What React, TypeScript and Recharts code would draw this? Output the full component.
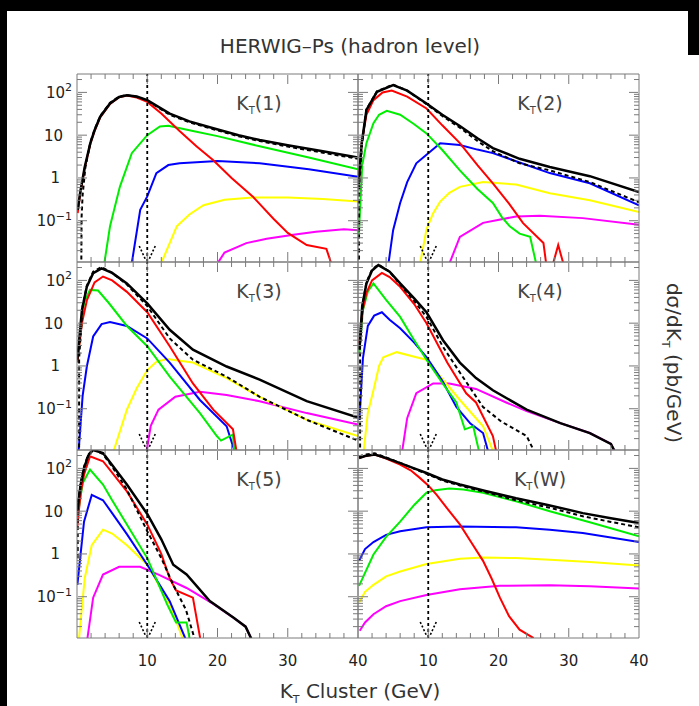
import React from 'react'
import { LineChart, Line, XAxis, YAxis, ReferenceLine } from 'recharts'

type Pt = [number, number]

// K_T(1)
const kt1Black: Pt[] = [[0.1, 0.18], [0.45, 0.45], [1.1, 1.8], [1.9, 6.5], [2.5, 13], [3.3, 27], [4.7, 55], [6, 78], [7.1, 86], [8.5, 80], [10, 66], [13.2, 32], [16, 21], [19.4, 14.5], [23, 10], [26, 7.7], [30, 5.8], [35, 4.2], [40, 3.0]]
const kt1Dashed: Pt[] = [[0.6, 0.004], [0.65, 0.12], [0.8, 0.4], [1.2, 1.8], [1.9, 6.8], [2.5, 13.5], [3.3, 28], [4.7, 57], [6, 80], [7.1, 86], [8.5, 79], [10, 64], [13.2, 30], [16, 20], [19.4, 13.8], [23, 9.4], [26, 7.3], [30, 5.4], [35, 3.9], [40, 2.8]]
const kt1Red: Pt[] = [[0.1, 0.15], [0.45, 0.42], [1.1, 1.7], [1.9, 6.3], [2.5, 12.5], [3.3, 26], [4.7, 54], [6, 77], [7.1, 84], [8.5, 76], [10, 60], [12, 32], [14.6, 12.5], [17, 5.5], [19.4, 2.6], [22, 1.0], [25, 0.37], [28, 0.11], [30, 0.052], [32.7, 0.027], [35.5, 0.022], [37, 0.004]]
const kt1Green: Pt[] = [[3.6, 0.005], [4.7, 0.074], [6.1, 0.62], [7.8, 3.8], [10, 10], [11.8, 16], [13, 16.5], [16.5, 12.5], [20, 9.5], [26, 5.5], [33, 3.0], [40, 1.6]]
const kt1Blue: Pt[] = [[7.5, 0.005], [9, 0.18], [10, 0.37], [11.3, 1.3], [13, 2.0], [14.6, 2.2], [20, 2.5], [26, 2.2], [33, 1.6], [40, 1.06]]
const kt1Yellow: Pt[] = [[11.2, 0.005], [14.2, 0.074], [16, 0.14], [18, 0.23], [21, 0.31], [25, 0.35], [30, 0.35], [35, 0.32], [40, 0.28]]
const kt1Magenta: Pt[] = [[18.8, 0.005], [21, 0.018], [24.1, 0.03], [27, 0.038], [30.8, 0.047], [34, 0.055], [38, 0.063], [40, 0.06]]

// K_T(2)
const kt2Black: Pt[] = [[0.05, 0.62], [0.5, 6], [1.2, 39], [2.7, 103], [5, 149], [7, 110], [9.75, 55], [12, 30], [14.5, 16.4], [17, 8.5], [19.2, 5], [23, 2.8], [27.3, 1.8], [33, 1.1], [40, 0.47]]
const kt2Dashed: Pt[] = [[0.14, 0.004], [0.16, 0.5], [0.6, 7], [1.2, 40], [2.7, 106], [5, 152], [7, 110], [9.75, 53], [12, 28], [14.5, 15], [17, 7.3], [19.2, 4.2], [23, 2.2], [27.3, 1.5], [33, 0.8], [40, 0.27]]
const kt2Red: Pt[] = [[0.1, 0.7], [0.5, 6], [1.2, 30], [2.2, 66], [3.5, 100], [4.8, 110], [7, 80], [9.75, 42], [12, 17], [14.5, 6.5], [17, 2.0], [19.2, 0.75], [21.5, 0.25], [23.5, 0.088], [26.4, 0.03], [27.1, 0.004], [28.5, 0.027], [29.9, 0.004]]
const kt2Green: Pt[] = [[0.1, 0.042], [0.6, 2], [1.2, 6.5], [2.2, 19], [3, 30], [4.1, 37], [6, 30], [8, 18], [9.75, 11], [12, 4.5], [14.5, 1.5], [17, 0.55], [19.2, 0.26], [20.5, 0.12], [21.6, 0.074], [23, 0.05], [24.5, 0.042], [25.9, 0.004]]
const kt2Blue: Pt[] = [[4, 0.004], [5, 0.06], [6, 0.26], [7, 0.8], [8.3, 2.2], [9.75, 3.5], [11.7, 6.5], [14.5, 5.9], [17, 4.6], [19.2, 3.8], [23, 2.3], [27.3, 1.3], [33, 0.75], [40, 0.23]]
const kt2Yellow: Pt[] = [[8.5, 0.005], [9.75, 0.063], [10.7, 0.15], [11.7, 0.28], [13, 0.45], [14.5, 0.62], [17.8, 0.8], [22.5, 0.7], [27.3, 0.44], [33, 0.3], [40, 0.16]]
const kt2Magenta: Pt[] = [[12.3, 0.005], [14.5, 0.042], [17.8, 0.089], [22.5, 0.126], [25.9, 0.13], [32, 0.115], [40, 0.08]]

// K_T(3)
const kt3Black: Pt[] = [[0.05, 1.4], [0.7, 20], [1.4, 71], [2.3, 147], [3.5, 191], [5, 150], [7.1, 85], [10, 29], [13.2, 7], [16.5, 2.4], [21.3, 0.97], [26, 0.48], [32.7, 0.15], [40, 0.062]]
const kt3Dashed: Pt[] = [[0.3, 0.004], [0.3, 1.5], [0.8, 25], [1.4, 75], [2.3, 160], [3.5, 205], [5, 150], [7.1, 80], [10, 25], [13.2, 4.4], [16.5, 1.4], [21.3, 0.56], [26, 0.19], [32.7, 0.055], [40, 0.018]]
const kt3Red: Pt[] = [[0.05, 1.2], [0.7, 10], [1.4, 34], [2.5, 90], [3.7, 123], [5, 100], [7.1, 54], [10, 18], [13.2, 2.9], [16.5, 0.39], [19.4, 0.095], [22.2, 0.033], [23.1, 0.004]]
const kt3Green: Pt[] = [[0.05, 1.4], [1, 30], [1.85, 60], [3, 58], [4.5, 30], [7.1, 8.6], [10, 2.9], [13.2, 0.56], [17.5, 0.079], [19.9, 0.023], [20.5, 0.018], [22.2, 0.025], [22.6, 0.004]]
const kt3Blue: Pt[] = [[0.05, 0.004], [0.8, 0.2], [1.4, 0.97], [2.3, 4.9], [3.5, 9.5], [4.7, 10.6], [7.1, 8.6], [10, 4.4], [13.2, 1.2], [17.5, 0.16], [21.3, 0.039], [23.2, 0.004]]
const kt3Yellow: Pt[] = [[4.6, 0.005], [7.1, 0.095], [8.5, 0.3], [10, 0.8], [11.3, 1.25], [12.8, 1.45], [16.5, 1.2], [21.3, 0.52], [26, 0.19], [32.7, 0.055], [35.5, 0.039], [40, 0.023]]
const kt3Magenta: Pt[] = [[9.6, 0.005], [10.5, 0.04], [11.6, 0.095], [14, 0.19], [17.5, 0.25], [21.3, 0.21], [26, 0.15], [32.7, 0.079], [40, 0.043]]

// K_T(4)
const kt4Black: Pt[] = [[0.2, 2.4], [0.6, 25], [1.2, 85], [2, 170], [2.9, 228], [4.5, 160], [6, 85], [8, 38], [9.75, 18], [12.1, 4.0], [14.5, 1.2], [16.8, 0.52], [19.2, 0.27], [24, 0.095], [28.8, 0.046], [33, 0.027], [36, 0.015], [37.8, 0.004]]
const kt4Dashed: Pt[] = [[0.3, 0.004], [0.3, 3], [0.7, 30], [1.2, 90], [2, 180], [2.9, 235], [4.5, 160], [6, 80], [8, 33], [9.75, 14], [12.1, 2.8], [14.5, 0.7], [17.8, 0.11], [20.4, 0.05], [24, 0.023], [26.3, 0.004]]
const kt4Red: Pt[] = [[0.2, 3.4], [0.6, 18], [1.2, 51], [2, 100], [3.4, 150], [4.5, 120], [6, 71], [8, 28], [9.75, 10], [12.7, 1.2], [15.4, 0.23], [16.8, 0.14], [19.2, 0.023], [20.2, 0.004]]
const kt4Green: Pt[] = [[0.2, 2], [0.7, 20], [1.4, 55], [2.2, 85], [4, 35], [6, 14], [8, 4], [9.75, 1.4], [12, 0.4], [14, 0.14], [15.2, 0.033], [16.4, 0.039], [17.8, 0.004]]
const kt4Blue: Pt[] = [[0.2, 0.055], [0.7, 1.5], [1.4, 8.6], [2.3, 15], [3.4, 18], [4.5, 12], [6, 7.6], [8, 3.5], [9.75, 1.6], [12, 0.45], [14, 0.11], [16, 0.045], [17.8, 0.027], [19.2, 0.004]]
const kt4Yellow: Pt[] = [[0.6, 0.005], [1.4, 0.08], [2.2, 0.27], [3, 1.0], [3.6, 1.6], [5.5, 2.1], [8.3, 1.6], [9.75, 1.4], [12, 0.5], [14.5, 0.16], [17.8, 0.039], [20.2, 0.004]]
const kt4Magenta: Pt[] = [[6, 0.005], [7, 0.06], [8.3, 0.23], [10.7, 0.39], [13, 0.39], [16.8, 0.29], [21.1, 0.14], [24, 0.088], [28.8, 0.046], [33, 0.027], [36, 0.015], [37.8, 0.004]]

// K_T(5)
const kt5Black: Pt[] = [[0.05, 10], [0.5, 40], [1, 100], [1.6, 200], [2.3, 270], [3.7, 228], [5, 120], [7.1, 42], [10, 8.6], [12, 2.2], [13.7, 0.56], [15.6, 0.33], [18.9, 0.079], [22.2, 0.033], [24, 0.02], [26, 0.004]]
const kt5Dashed: Pt[] = [[0.1, 0.8], [0.1, 14], [0.5, 45], [1, 110], [1.6, 210], [2.3, 280], [3.7, 215], [5, 110], [7.1, 32], [10, 3.4], [12, 0.8], [13.7, 0.19], [15.5, 0.05], [17.5, 0.004]]
const kt5Red: Pt[] = [[0.05, 4.4], [0.5, 25], [1, 71], [1.85, 191], [3.7, 147], [5, 80], [7.1, 29], [10, 4.9], [12, 1.0], [13.2, 0.27], [14.1, 0.14], [16.5, 0.095], [18, 0.004]]
const kt5Green: Pt[] = [[0.05, 7], [0.8, 45], [1.85, 94], [3.7, 42], [5, 18], [7.1, 4.9], [10, 0.8], [12.8, 0.068], [14.1, 0.025], [15.6, 0.025], [16.5, 0.004]]
const kt5Blue: Pt[] = [[0.05, 0.19], [1, 5.7], [2.1, 24], [3.7, 18], [5, 9], [7.1, 2.9], [10, 0.56], [13.2, 0.079], [16.5, 0.004]]
const kt5Yellow: Pt[] = [[0.1, 0.005], [1.1, 0.27], [2.1, 1.6], [3.7, 3.7], [5, 3], [7.1, 1.6], [10, 0.56], [13.2, 0.068], [16, 0.004]]
const kt5Magenta: Pt[] = [[1.2, 0.005], [2.3, 0.095], [3.7, 0.33], [6, 0.5], [9, 0.5], [11.6, 0.33], [15.6, 0.16], [19.4, 0.068], [22.2, 0.033], [24, 0.02], [26, 0.004]]

// K_T(W)
const ktwBlack: Pt[] = [[0.15, 175], [1, 195], [2.4, 210], [4, 175], [6, 133], [8, 100], [9.75, 78], [12, 55], [14.5, 42], [18, 30], [22.5, 20], [27, 14], [32, 9], [36, 6.8], [40, 5.3]]
const ktwDashed: Pt[] = [[0.15, 190], [1, 210], [2.4, 225], [4, 180], [6, 135], [8, 98], [9.75, 75], [12, 52], [14.5, 40], [18, 28], [22.5, 18], [27.3, 12], [32, 7.6], [36, 5.6], [40, 4.2]]
const ktwRed: Pt[] = [[0.15, 175], [1, 195], [2.4, 210], [4, 170], [6, 123], [7.5, 90], [8.8, 60], [10, 40], [11.2, 24], [12.8, 11], [14.5, 4.9], [16, 2.0], [17.8, 0.69], [19, 0.27], [20.2, 0.095], [21.5, 0.035], [23, 0.017], [24.9, 0.011], [25.5, 0.004]]
const ktwGreen: Pt[] = [[0.15, 0.18], [2.2, 0.97], [4, 2.5], [6, 5.7], [8, 14], [9.75, 27], [11, 31], [13, 34], [15, 32], [17.8, 27], [22.5, 17], [27.3, 10], [33, 5.5], [40, 2.6]]
const ktwBlue: Pt[] = [[0.15, 0.69], [1, 1.3], [2.2, 1.9], [4, 2.8], [6, 3.4], [9.75, 4.2], [14.5, 4.4], [22.5, 4.2], [27.3, 3.7], [32, 3.1], [40, 1.9]]
const ktwYellow: Pt[] = [[0.15, 0.073], [1, 0.13], [2.2, 0.19], [4, 0.3], [6, 0.39], [9.75, 0.58], [14.5, 0.77], [17.8, 0.83], [22.5, 0.8], [27.3, 0.73], [33, 0.65], [40, 0.54]]
const ktwMagenta: Pt[] = [[0.25, 0.016], [1, 0.025], [2.2, 0.039], [4, 0.06], [6, 0.079], [9.75, 0.11], [14.5, 0.15], [20.2, 0.18], [27.3, 0.185], [33, 0.175], [40, 0.155]]

const panelLabels = ['1', '2', '3', '4', '5', 'W']
const xLabelTicks = [10, 20, 30, 40]
const xMinorTicks = [2, 4, 6, 8, 12, 14, 16, 18, 22, 24, 26, 28, 32, 34, 36, 38]
const xMajorTicks = [10, 20, 30]
const yLabelTicks = [0.1, 1, 10, 100]
const yMinorTicks = [0.02, 0.03, 0.04, 0.05, 0.06, 0.07, 0.08, 0.09, 0.2, 0.3, 0.4, 0.5, 0.6, 0.7, 0.8, 0.9, 2, 3, 4, 5, 6, 7, 8, 9, 20, 30, 40, 50, 60, 70, 80, 90, 200]
const cutValue = 10

const panels = [
  { black: kt1Black, dashed: kt1Dashed, red: kt1Red, green: kt1Green, blue: kt1Blue, yellow: kt1Yellow, magenta: kt1Magenta },
  { black: kt2Black, dashed: kt2Dashed, red: kt2Red, green: kt2Green, blue: kt2Blue, yellow: kt2Yellow, magenta: kt2Magenta },
  { black: kt3Black, dashed: kt3Dashed, red: kt3Red, green: kt3Green, blue: kt3Blue, yellow: kt3Yellow, magenta: kt3Magenta },
  { black: kt4Black, dashed: kt4Dashed, red: kt4Red, green: kt4Green, blue: kt4Blue, yellow: kt4Yellow, magenta: kt4Magenta },
  { black: kt5Black, dashed: kt5Dashed, red: kt5Red, green: kt5Green, blue: kt5Blue, yellow: kt5Yellow, magenta: kt5Magenta },
  { black: ktwBlack, dashed: ktwDashed, red: ktwRed, green: ktwGreen, blue: ktwBlue, yellow: ktwYellow, magenta: ktwMagenta },
]

const Y_DOMAIN: [number, number] = [Math.pow(10, -1.965), Math.pow(10, 2.43)]
const FONT = '"DejaVu Sans", sans-serif'
const PW = 281
const PH = 188
const M = 14
const YW = 60
const XH = 40
const COL_X = [77, 358]
const ROW_Y = [74, 262, 450]
const FRAME = '#7a7a7a'

const series = [
  { key: 'magenta', color: '#ff00ff', width: 2 },
  { key: 'yellow', color: '#ffff00', width: 2 },
  { key: 'blue', color: '#0000ff', width: 2 },
  { key: 'green', color: '#00ee00', width: 2 },
  { key: 'red', color: '#ff0000', width: 2 },
  { key: 'black', color: '#000000', width: 2.5 },
  { key: 'dashed', color: '#000000', width: 2, dash: '4 3' },
]

const toRows = (pts: Pt[]) => pts.map(([x, y]) => ({ x, y }))

function YTick({ x, y, payload }: any) {
  const v = payload.value
  const exp = v === 100 ? '2' : v === 0.1 ? '\u22121' : ''
  const base = v === 1 ? '1' : '10'
  const shift = exp ? 5 : v === 10 ? 14 : 17
  return (
    <text x={x - shift} y={y} dy="0.36em" textAnchor="end" fontSize={15} fill="#222" fontFamily={FONT}>
      {base}
      {exp && <tspan dy="-0.6em" fontSize={11}>{exp}</tspan>}
    </text>
  )
}

function XTick({ x, y, payload }: any) {
  return (
    <text x={x} y={y + 28} textAnchor="middle" fontSize={15} fill="#222" fontFamily={FONT}>
      {payload.value}
    </text>
  )
}

// tick marks only, no labels
function NoLabel() {
  return <g />
}

function CutArrow(props: any) {
  const vb = props.viewBox
  if (!vb) return null
  const x = vb.x
  const b = vb.y + vb.height
  return (
    <g stroke="#000" strokeWidth={1.6} strokeDasharray="2 2" fill="none">
      <line x1={x - 8} y1={b - 16} x2={x - 2} y2={b - 3} />
      <line x1={x + 8} y1={b - 16} x2={x + 2} y2={b - 3} />
    </g>
  )
}

function Panel({ idx }: { idx: number }) {
  const col = idx % 2
  const row = Math.floor(idx / 2)
  const showY = col === 0
  const showX = row === 2
  const p: any = panels[idx]
  const width = PW + 2 * M + (showY ? YW : 0)
  const height = PH + 2 * M + (showX ? XH : 0)
  const left = COL_X[col] - M - (showY ? YW : 0)
  const top = ROW_Y[row] - M
  const axisCommon = { type: 'number' as const, domain: [0, 40], allowDataOverflow: true, dataKey: 'x', interval: 0 as const }
  const yCommon = { type: 'number' as const, scale: 'log' as const, domain: Y_DOMAIN, allowDataOverflow: true, interval: 0 as const }
  const xm = { ...axisCommon, mirror: true, height: 1, tick: NoLabel, tickLine: { stroke: FRAME } }
  const ym = { ...yCommon, mirror: true, width: 1, tick: NoLabel, tickLine: { stroke: FRAME } }
  return (
    <div style={{ position: 'absolute', left, top }}>
      <LineChart width={width} height={height} margin={{ top: M, right: M, bottom: M, left: M }}>
        <XAxis xAxisId="x" {...axisCommon} ticks={xLabelTicks} hide={!showX} height={XH}
          tickSize={0} tickMargin={0} axisLine={false} tickLine={false} tick={XTick} />
        <XAxis xAxisId="xb" {...xm} orientation="bottom" ticks={xMinorTicks} tickSize={5} axisLine={{ stroke: FRAME }} />
        <XAxis xAxisId="xbm" {...xm} orientation="bottom" ticks={xMajorTicks} tickSize={9} axisLine={false} />
        <XAxis xAxisId="xt" {...xm} orientation="top" ticks={xMinorTicks} tickSize={5} axisLine={{ stroke: FRAME }} />
        <XAxis xAxisId="xtm" {...xm} orientation="top" ticks={xMajorTicks} tickSize={9} axisLine={false} />
        <YAxis yAxisId="y" {...yCommon} ticks={yLabelTicks} hide={!showY} width={YW}
          tickSize={0} tickMargin={0} axisLine={false} tickLine={false} tick={YTick} />
        <YAxis yAxisId="yl" {...ym} orientation="left" ticks={yMinorTicks} tickSize={5} axisLine={{ stroke: FRAME }} />
        <YAxis yAxisId="ylm" {...ym} orientation="left" ticks={yLabelTicks} tickSize={9} axisLine={false} />
        <YAxis yAxisId="yr" {...ym} orientation="right" ticks={yMinorTicks} tickSize={5} axisLine={{ stroke: FRAME }} />
        <YAxis yAxisId="yrm" {...ym} orientation="right" ticks={yLabelTicks} tickSize={9} axisLine={false} />
        {series.map((s) => (
          <Line key={s.key} xAxisId="x" yAxisId="y" data={toRows(p[s.key])} dataKey="y" type="linear"
            stroke={s.color} strokeWidth={s.width} strokeDasharray={s.dash} dot={false}
            isAnimationActive={false} />
        ))}
        <ReferenceLine xAxisId="x" yAxisId="y" x={cutValue} stroke="#000" strokeWidth={1.8}
          strokeDasharray="3 3" label={(lp: any) => <CutArrow {...lp} />} />
      </LineChart>
      <div style={{
        position: 'absolute', left: M + (showY ? YW : 0) + 182, top: M + 30,
        transform: 'translate(-50%, -50%)', fontFamily: FONT, fontSize: 19, color: '#444', whiteSpace: 'nowrap',
      }}>
        K<sub style={{ fontSize: 10 }}>T</sub>({panelLabels[idx]})
      </div>
    </div>
  )
}

export default function App() {
  return (
    <div style={{ position: 'absolute', left: 0, top: 0, width: 699, height: 706, background: '#fff', overflow: 'hidden' }}>
      <div style={{ position: 'absolute', left: 0, top: 0, width: 699, height: 11, background: '#000' }} />
      <div style={{ position: 'absolute', left: 0, top: 0, width: 7, height: 706, background: '#000' }} />
      <div style={{ position: 'absolute', left: 688, top: 0, width: 11, height: 55, background: '#000' }} />
      <div style={{
        position: 'absolute', left: 350, top: 46, transform: 'translate(-50%, -50%)',
        fontFamily: FONT, fontSize: 20, color: '#333', whiteSpace: 'nowrap',
      }}>
        HERWIG&#8211;Ps (hadron level)
      </div>
      {[0, 1, 2, 3, 4, 5].map((i) => <Panel key={i} idx={i} />)}
      <div style={{
        position: 'absolute', left: 360, top: 692, transform: 'translate(-50%, -50%)',
        fontFamily: FONT, fontSize: 20, color: '#333', whiteSpace: 'nowrap',
      }}>
        K<sub style={{ fontSize: 11 }}>T</sub> Cluster (GeV)
      </div>
      <div style={{
        position: 'absolute', left: 672, top: 363, transform: 'translate(-50%, -50%) rotate(90deg)',
        fontFamily: FONT, fontSize: 20, color: '#333', whiteSpace: 'nowrap',
      }}>
        d&sigma;/dK<sub style={{ fontSize: 11 }}>T</sub> (pb/GeV)
      </div>
    </div>
  )
}
